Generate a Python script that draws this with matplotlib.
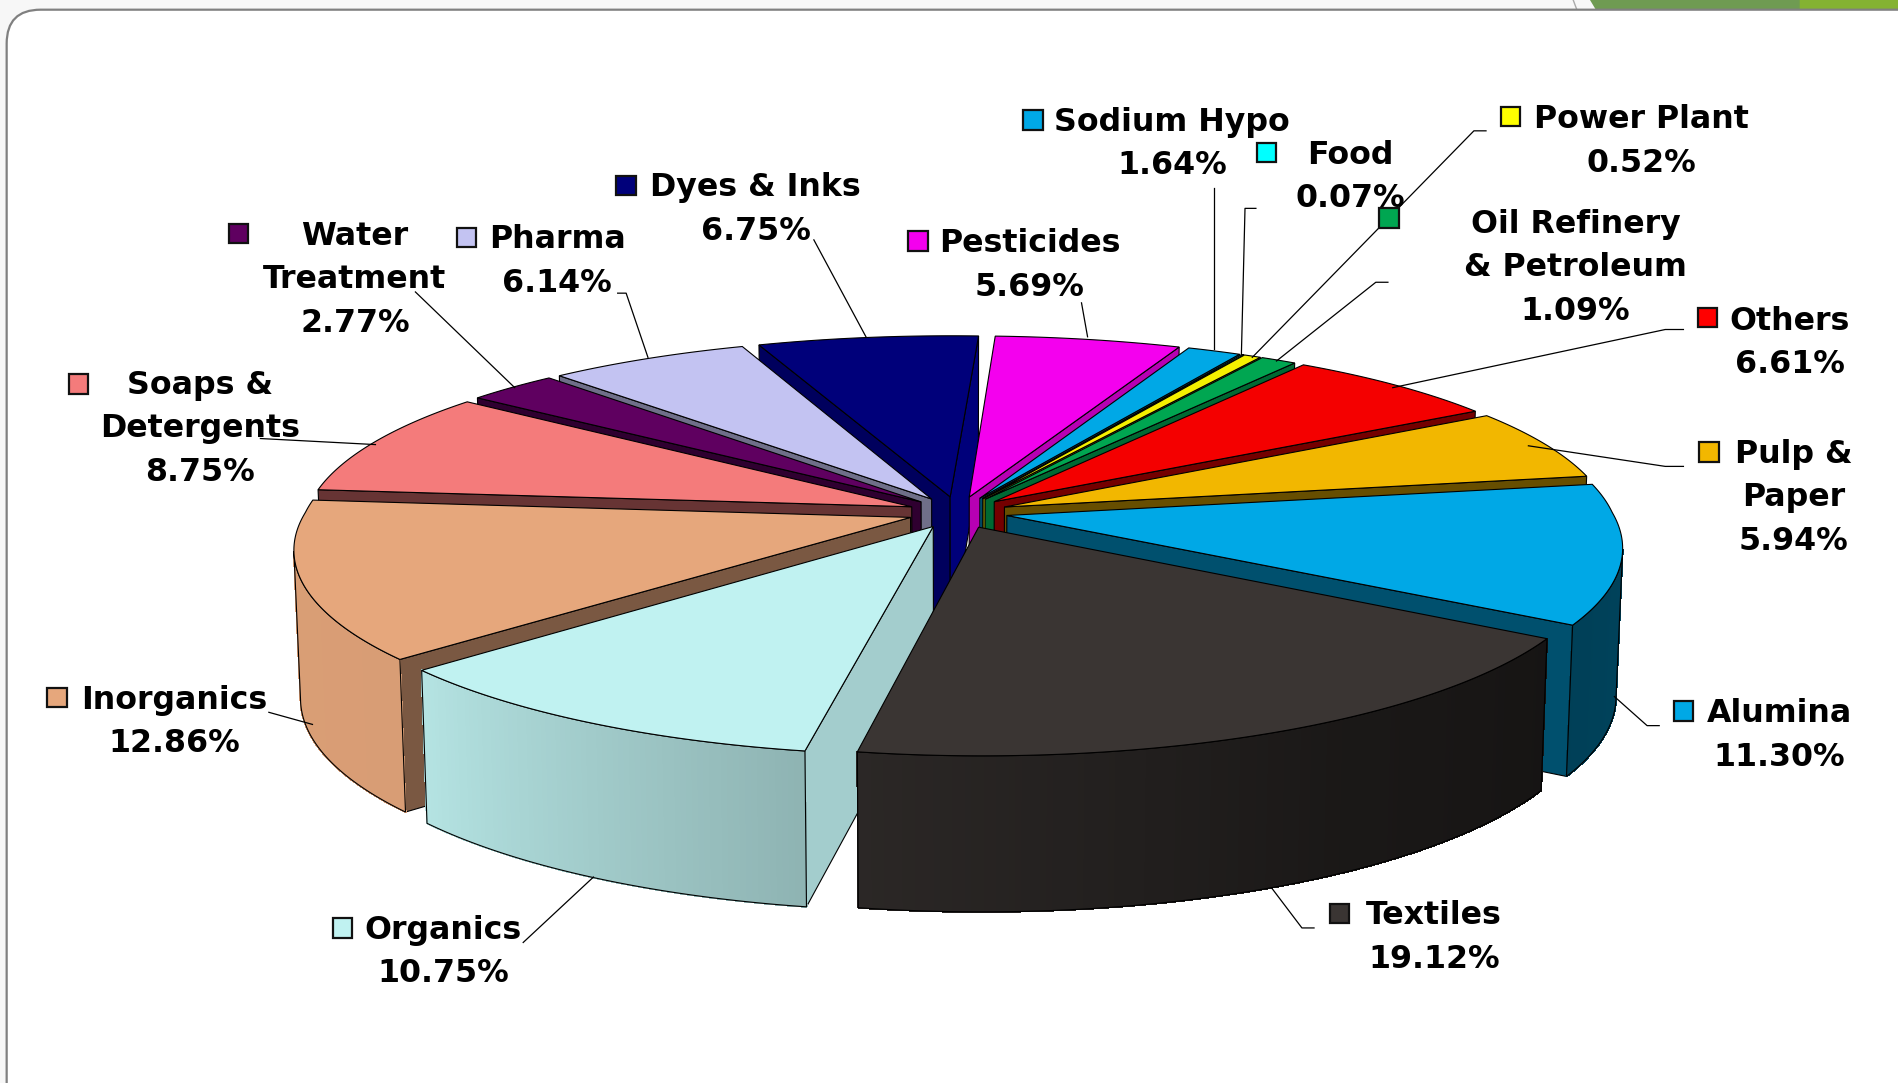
import numpy as np
import matplotlib
matplotlib.use("Agg")
import matplotlib.pyplot as plt
from matplotlib.patches import Polygon, Rectangle, FancyBboxPatch

# ---- data (clockwise from the top) ----
categories = ["Pesticides", "Sodium Hypo", "Food", "Power Plant", "Oil Refinery\n& Petroleum",
              "Others", "Pulp &\nPaper", "Alumina", "Textiles", "Organics", "Inorganics",
              "Soaps &\nDetergents", "Water\nTreatment", "Pharma", "Dyes & Inks"]
shares = [5.69, 1.64, 0.07, 0.52, 1.09, 6.61, 5.94, 11.30, 19.12, 10.75, 12.86, 8.75, 2.77, 6.14, 6.75]
colors = ["#F400EE", "#00A8E6", "#00FFFF", "#F5F000", "#00A651", "#F40000", "#F2B700", "#00A8E6",
          "#3A3533", "#C0F2F1", "#E6A77C", "#F47B7B", "#5F0060", "#C3C3F2", "#00007A"]
key_colors = ["#F400EE", "#00A8E6", "#00FFFF", "#FFFF00", "#00A651", "#FF0000", "#F2B700", "#00A8E6",
              "#3A3533", "#C0F2F1", "#E6A77C", "#F47B7B", "#5F0060", "#C3C3F2", "#00007A"]

# ---- layout (in 1568x894 reference units) ----
label_xy = [(850, 219), (968, 119), (1115, 146), (1355, 117), (1301, 221), (1478, 283), (1481, 411),
            (1469, 607), (1184, 774), (366, 786), (144, 596), (165, 354), (293, 231), (460, 216), (624, 173)]
key_xy = [(758, 199), (853, 99), (1046, 126), (1247, 96), (1147, 180), (1410, 262), (1411, 373),
          (1390, 587), (1106, 754), (283, 766), (47, 576), (65, 317), (197, 193), (385, 196), (517, 153)]
leaders = [[(893, 250), (898, 278)], [(1002, 155), (1002, 288)], [(1037, 172), (1028, 172), (1025, 293)],
           [(1227, 108), (1217, 108), (1034, 295)], [(1146, 233), (1136, 233), (1054, 298)],
           [(1390, 272), (1375, 272), (1150, 320)], [(1390, 385), (1375, 385), (1262, 368)],
           [(1370, 599), (1360, 599), (1333, 575)], [(1085, 766), (1075, 766), (1050, 733)],
           [(432, 778), (490, 724)], [(222, 588), (258, 598)], [(215, 362), (310, 367)],
           [(343, 241), (425, 320)], [(510, 242), (517, 242), (535, 295)], [(672, 198), (715, 278)]]

START = 3.0
EXPLODE = 0.082
CX, CY = 791.0, 423.0
RX, RY = 500.0, 161.0
KX_FRONT, KX_BACK, KY = 0.16, 0.125, 0.15
DEPTH = 121.0


def proj(u, v, z=0.0):
    s = 1 + np.where(np.asarray(v) > 0, KX_FRONT, KX_BACK) * v
    x = CX + u * RX * s * (1 - 0.01 * z)
    y = CY + v * RY * (1 + KY * v) + z * DEPTH * (1 + 0.06 * v)
    return x, y


def shade(c, f):
    r = np.array(matplotlib.colors.to_rgb(c)) * f
    return tuple(np.clip(r, 0, 1))


def wall_factor(theta):
    return np.interp(abs(np.sin(np.radians(theta))), [.05, .2, .4, .6, .8, 1.0], [1, .82, .75, .62, .5, .42])


def rim_factor(theta):
    return np.interp(theta, [100, 121, 150, 190, 229, 280], [.40, .38, .46, .74, .94, .95])


fig = plt.figure(figsize=(18.99, 10.83), dpi=100, facecolor="#f7f7f7")
ax = fig.add_axes([0, 0, 1, 1])
ax.set_xlim(0, 1568)
ax.set_ylim(894, 0)
ax.axis("off")

# slide decoration
ax.add_patch(Polygon([(1313, 0), (1486, 0), (1486, 8), (1318, 8)], fc="#6F9B52", ec="none", zorder=0))
ax.add_patch(Polygon([(1486, 0), (1568, 0), (1568, 12), (1486, 8)], fc="#84B232", ec="none", zorder=0))
ax.plot([1299, 1302], [0, 8], color="#aaaaaa", lw=1, zorder=0)
ax.add_patch(FancyBboxPatch((5.5, 8), 1600, 930, boxstyle="round,pad=0,rounding_size=28",
                            fc="white", ec="#808080", lw=1.6, zorder=0.5))

edges = np.cumsum([0] + shares) / sum(shares) * 360 + START
mids = (edges[:-1] + edges[1:]) / 2
order = np.argsort(-np.cos(np.radians(mids)))

z = 1
for i in order:
    t0, t1 = edges[i], edges[i + 1]
    tm = np.radians(mids[i])
    ou, ov = EXPLODE * np.sin(tm), -EXPLODE * np.cos(tm)
    col = colors[i]
    n = max(3, int(t1 - t0) * 2)
    th = np.linspace(t0, t1, n)
    rad = np.radians(th)
    u = ou + np.sin(rad)
    v = ov - np.cos(rad)
    topx, topy = proj(u, v)
    botx, boty = proj(u, v, 1.0)
    ax0, ay0 = proj(ou, ov)
    bx0, by0 = proj(ou, ov, 1.0)

    # cut faces
    for angle, idx, cond in ((t0, 0, np.sin(np.radians(t0)) < 0), (t1, -1, np.sin(np.radians(t1)) > 0)):
        if cond:
            ax.add_patch(Polygon([(ax0, ay0), (topx[idx], topy[idx]), (botx[idx], boty[idx]), (bx0, by0)],
                                 fc=shade(col, wall_factor(angle)), ec="black", lw=0.8, zorder=z))
            z += 1

    # outer wall
    vis = [j for j in range(n - 1) if topx[j + 1] < topx[j]]
    for j in vis:
        f = rim_factor((th[j] + th[j + 1]) / 2)
        fc = shade(col, f)
        ax.add_patch(Polygon([(topx[j], topy[j]), (topx[j + 1], topy[j + 1]),
                              (botx[j + 1], boty[j + 1]), (botx[j], boty[j])],
                             fc=fc, ec=fc, lw=0.8, antialiased=False, zorder=z))
    if vis:
        a, b = vis[0], vis[-1] + 1
        ox = list(topx[a:b + 1]) + list(botx[a:b + 1][::-1])
        oy = list(topy[a:b + 1]) + list(boty[a:b + 1][::-1])
        ax.add_patch(Polygon(list(zip(ox, oy)), fc="none", ec="black", lw=0.8, zorder=z + 0.5))
    z += 1

    # top face
    ax.add_patch(Polygon([(ax0, ay0)] + list(zip(topx, topy)), fc=col, ec="black", lw=0.8, zorder=z))
    z += 1

# leader lines
for pts in leaders:
    ax.plot([p[0] for p in pts], [p[1] for p in pts], color="black", lw=0.9, zorder=z)
z += 1

# labels and legend keys
for name, share, (lx, ly), (kx, ky), kc in zip(categories, shares, label_xy, key_xy, key_colors):
    ax.text(lx, ly, f"{name}\n{share:.2f}%", ha="center", va="center", fontsize=22.8,
            fontweight="bold", family="DejaVu Sans", color="black", linespacing=1.52, zorder=z + 1)
    ax.add_patch(Rectangle((kx - 8, ky - 8), 16, 16, fc=kc, ec="#111111", lw=1.6, zorder=z))

fig.savefig("out.png", dpi=100, facecolor=fig.get_facecolor())
